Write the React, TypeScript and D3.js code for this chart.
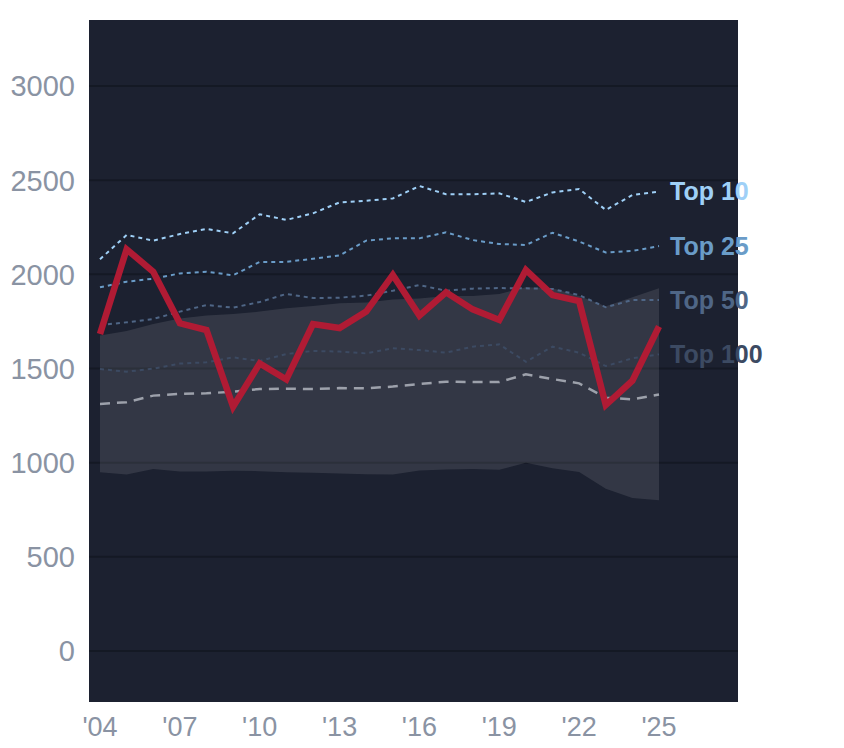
import React, { useEffect, useRef } from "react";
import * as d3 from "d3";

const years = d3.range(2004, 2026);

const top10 = [2080, 2209, 2179, 2214, 2241, 2218, 2319, 2289, 2324, 2382, 2391, 2403, 2469, 2425, 2425, 2430, 2384, 2435, 2453, 2342, 2421, 2439];
const top25 = [1931, 1961, 1977, 2005, 2014, 1995, 2066, 2066, 2083, 2100, 2179, 2191, 2191, 2223, 2182, 2161, 2156, 2221, 2174, 2116, 2124, 2150];
const top50 = [1731, 1745, 1763, 1802, 1837, 1823, 1853, 1896, 1874, 1876, 1887, 1913, 1943, 1913, 1924, 1927, 1926, 1922, 1890, 1825, 1864, 1864];
const top100 = [1497, 1483, 1499, 1526, 1533, 1559, 1540, 1577, 1593, 1590, 1580, 1607, 1598, 1584, 1616, 1628, 1536, 1616, 1584, 1513, 1554, 1575];
const median = [1312, 1321, 1356, 1365, 1368, 1377, 1391, 1393, 1391, 1396, 1395, 1404, 1418, 1430, 1428, 1428, 1469, 1444, 1421, 1345, 1336, 1362];
const bandHigh = [1675, 1699, 1736, 1766, 1781, 1789, 1802, 1820, 1832, 1846, 1850, 1867, 1872, 1885, 1885, 1896, 1931, 1926, 1885, 1830, 1878, 1926];
const bandLow = [949, 937, 966, 953, 953, 957, 955, 949, 946, 942, 939, 937, 958, 964, 966, 962, 1000, 971, 951, 861, 812, 800];
const player = [1683, 2133, 2014, 1740, 1704, 1297, 1527, 1442, 1736, 1715, 1802, 1997, 1781, 1905, 1814, 1758, 2023, 1890, 1858, 1306, 1435, 1723];

const yTicks = [0, 500, 1000, 1500, 2000, 2500, 3000];
const xTicks = [2004, 2007, 2010, 2013, 2016, 2019, 2022, 2025];

const tiers = [
    { name: "Top 10", values: top10, color: "#9fd0f7", dash: "4,4" },
    { name: "Top 25", values: top25, color: "#6a9cc8", dash: "4,4" },
    { name: "Top 50", values: top50, color: "#4f6686", dash: "4,4" },
    { name: "Top 100", values: top100, color: "#3c4a62", dash: "4,4" },
];

const W = 844;
const H = 748;
const left = 89, right = 738, top = 20, bottom = 702;

export default function App() {
    const ref = useRef<SVGSVGElement>(null);

    useEffect(() => {
        const svg = d3.select(ref.current);
        svg.selectAll("*").remove();

        const x = d3.scaleLinear().domain([2004, 2025]).range([100, 659]);
        const y = d3.scaleLinear().domain([0, 3000]).range([651, 86]);

        svg.append("rect")
            .attr("x", left).attr("y", top)
            .attr("width", right - left).attr("height", bottom - top)
            .attr("fill", "#1c2130");

        svg.append("g").selectAll("line")
            .data(yTicks)
            .enter().append("line")
            .attr("x1", left).attr("x2", right)
            .attr("y1", d => y(d)).attr("y2", d => y(d))
            .attr("stroke", "#141924").attr("stroke-width", 2);

        const area = d3.area<number>()
            .x((d, i) => x(years[i]))
            .y0((d, i) => y(bandLow[i]))
            .y1(d => y(d));
        svg.append("path")
            .datum(bandHigh)
            .attr("d", area)
            .attr("fill", "rgba(255,255,255,0.1)");

        const line = d3.line<number>()
            .x((d, i) => x(years[i]))
            .y(d => y(d));

        svg.append("path")
            .datum(median)
            .attr("d", line)
            .attr("fill", "none")
            .attr("stroke", "#9da1ab")
            .attr("stroke-width", 2.5)
            .attr("stroke-dasharray", "10,7");

        for (const t of tiers.slice().reverse()) {
            svg.append("path")
                .datum(t.values)
                .attr("d", line)
                .attr("fill", "none")
                .attr("stroke", t.color)
                .attr("stroke-width", 2)
                .attr("stroke-dasharray", t.dash);
        }

        svg.append("path")
            .datum(player)
            .attr("d", line)
            .attr("fill", "none")
            .attr("stroke", "#b01b34")
            .attr("stroke-width", 6.5)
            .attr("stroke-linejoin", "miter");

        svg.append("g").selectAll("text")
            .data(tiers)
            .enter().append("text")
            .attr("x", x(2025) + 11)
            .attr("y", d => y(d.values[d.values.length - 1]))
            .attr("dy", "0.35em")
            .attr("fill", d => d.color)
            .attr("font-family", "Liberation Sans, Arial, sans-serif")
            .attr("font-weight", "bold")
            .attr("font-size", 25)
            .text(d => d.name);

        svg.append("g").selectAll("text")
            .data(yTicks)
            .enter().append("text")
            .attr("x", 75)
            .attr("y", d => y(d))
            .attr("dy", "0.36em")
            .attr("text-anchor", "end")
            .attr("fill", "#8a93a3")
            .attr("font-family", "Liberation Sans, Arial, sans-serif")
            .attr("font-size", 29)
            .text(d => String(d));

        svg.append("g").selectAll("text")
            .data(xTicks)
            .enter().append("text")
            .attr("x", d => x(d))
            .attr("y", 736)
            .attr("text-anchor", "middle")
            .attr("fill", "#8a93a3")
            .attr("font-family", "Liberation Sans, Arial, sans-serif")
            .attr("font-size", 27)
            .text(d => "'" + String(d).slice(2));
    }, []);

    return <svg ref={ref} width={W} height={H} style={{ position: "absolute", left: 0, top: 0 }} />;
}
